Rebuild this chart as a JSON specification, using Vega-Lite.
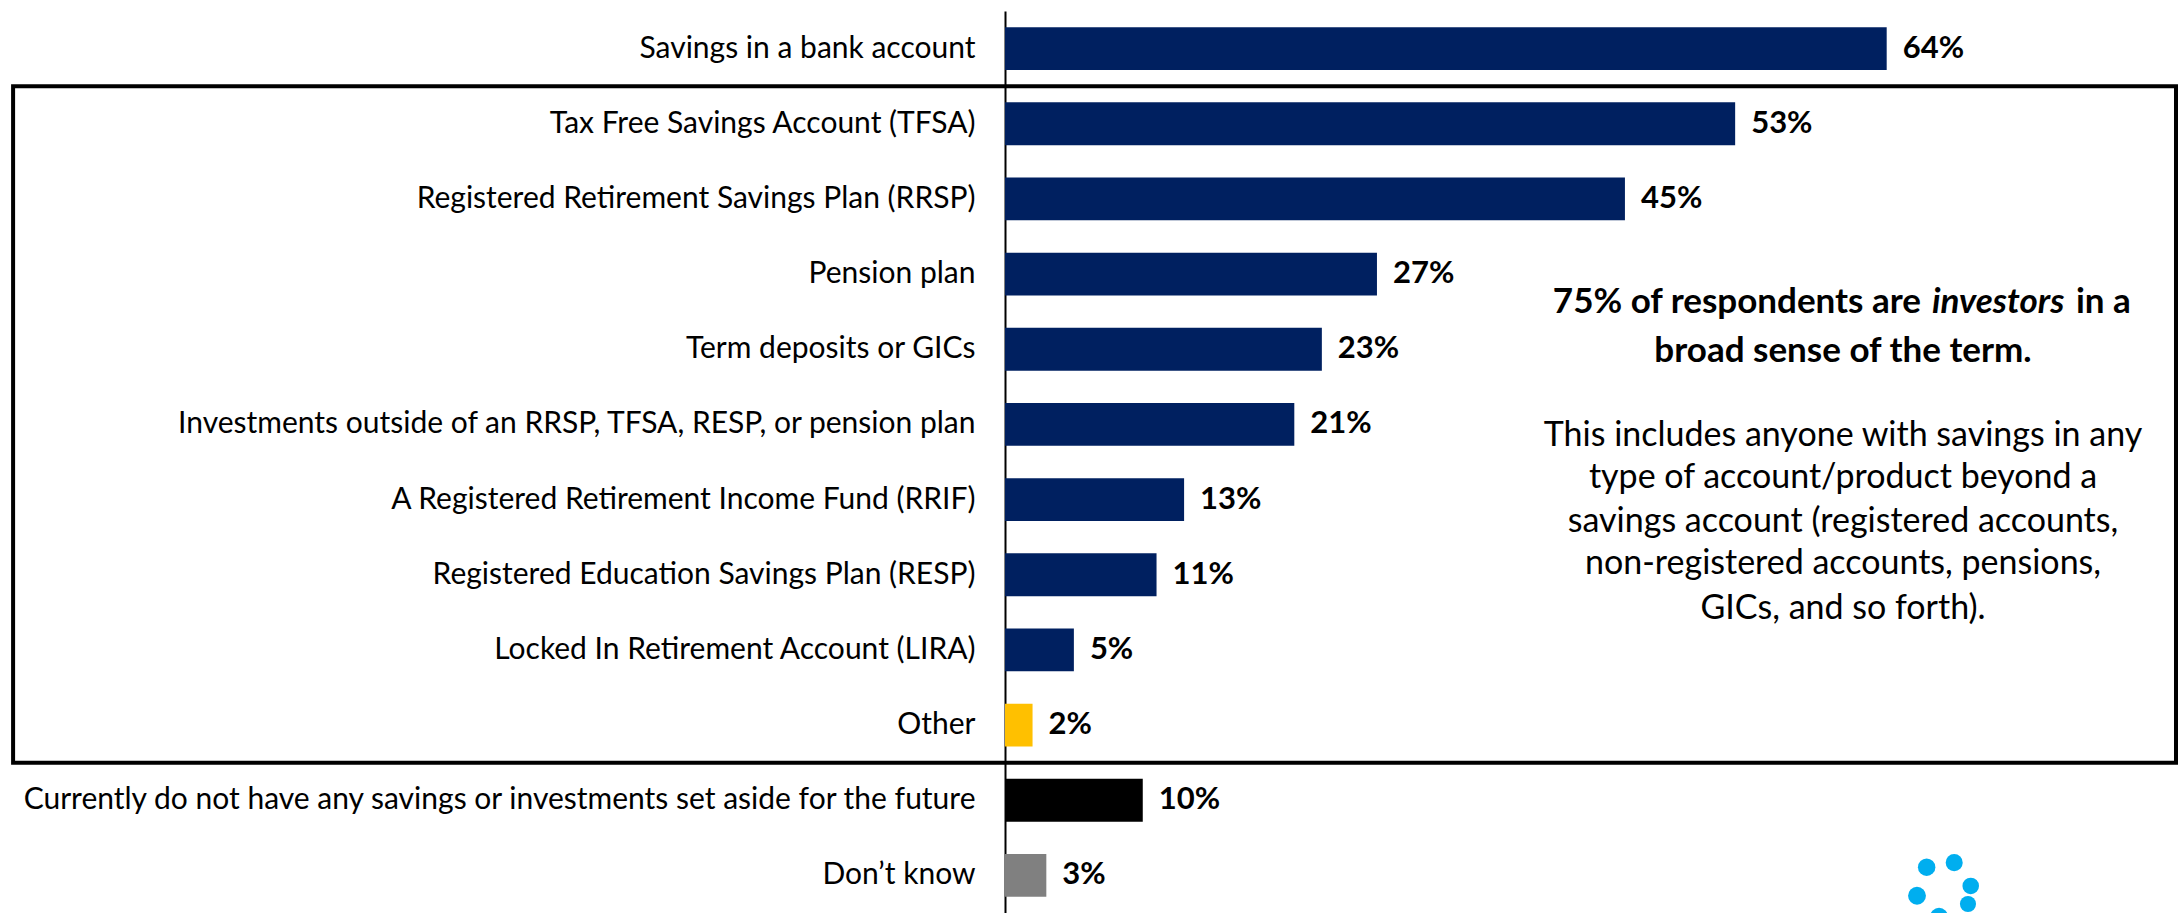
{
  "$schema": "https://vega.github.io/schema/vega-lite/v6.json",
  "width": 1171,
  "height": 902,
  "autosize": {"type": "none"},
  "padding": {"left": 1005, "top": 11, "right": 8, "bottom": 0},
  "background": "white",
  "config": {"view": {"stroke": null}, "font": "Lato"},
  "datasets": {
    "bars": [
      {"cat": "Savings in a bank account", "value": 64, "label": "64%", "group": "main"},
      {"cat": "Tax Free Savings Account (TFSA)", "value": 53, "label": "53%", "group": "main"},
      {"cat": "Registered Retirement Savings Plan (RRSP)", "value": 45, "label": "45%", "group": "main"},
      {"cat": "Pension plan", "value": 27, "label": "27%", "group": "main"},
      {"cat": "Term deposits or GICs", "value": 23, "label": "23%", "group": "main"},
      {"cat": "Investments outside of an RRSP, TFSA, RESP, or pension plan", "value": 21, "label": "21%", "group": "main"},
      {"cat": "A Registered Retirement Income Fund (RRIF)", "value": 13, "label": "13%", "group": "main"},
      {"cat": "Registered Education Savings Plan (RESP)", "value": 11, "label": "11%", "group": "main"},
      {"cat": "Locked In Retirement Account (LIRA)", "value": 5, "label": "5%", "group": "main"},
      {"cat": "Other", "value": 2, "label": "2%", "group": "other"},
      {"cat": "Currently do not have any savings or investments set aside for the future", "value": 10, "label": "10%", "group": "none"},
      {"cat": "Don’t know", "value": 3, "label": "3%", "group": "dk"}
    ],
    "box": [{"x": -72, "x2": 85, "y": 1, "y2": 10}],
    "boldLines": [
      {"text": "broad sense of the term.", "x": 60.83, "y": 4.52}
    ],
    "part1": [{"text": "75% of respondents are", "x": 66.49, "y": 3.87}],
    "part2": [{"text": "investors", "x": 67.29, "y": 3.87}],
    "part3": [{"text": "in a", "x": 77.74, "y": 3.87}],
    "normalLines": [
      {"text": "This includes anyone with savings in any", "x": 60.83, "y": 5.65},
      {"text": "type of account/product beyond a", "x": 60.83, "y": 6.21},
      {"text": "savings account (registered accounts,", "x": 60.83, "y": 6.8},
      {"text": "non-registered accounts, pensions,", "x": 60.83, "y": 7.36},
      {"text": "GICs, and so forth).", "x": 60.83, "y": 7.96}
    ],
    "logo": [
      {"x": 66.9, "y": 11.39, "dot": "b"},
      {"x": 68.9, "y": 11.33, "dot": "c"},
      {"x": 70.1, "y": 11.64, "dot": "d"},
      {"x": 66.2, "y": 11.77, "dot": "a"},
      {"x": 69.9, "y": 11.88, "dot": "e"},
      {"x": 67.8, "y": 12.05, "dot": "a"}
    ]
  },
  "layer": [
    {
      "layer": [
        {
          "data": {"name": "bars"},
          "mark": {"type": "bar"},
          "encoding": {
            "y": {
              "field": "cat", "type": "nominal", "sort": null,
              "scale": {"paddingInner": 0.43, "paddingOuter": 0.215},
              "axis": {
                "title": null, "ticks": false, "domainColor": "black", "domainWidth": 2,
                "labelFontSize": 30, "labelColor": "#000000", "labelPadding": 30,
                "labelLimit": 0, "labelFont": "Lato"
              }
            },
            "x": {"field": "value", "type": "quantitative", "scale": {"domain": [0, 85], "nice": false, "zero": false}, "axis": null},
            "color": {
              "field": "group", "type": "nominal", "legend": null,
              "scale": {"domain": ["main", "other", "none", "dk"], "range": ["#002060", "#FFC000", "#000000", "#808080"]}
            }
          }
        },
        {
          "data": {"name": "bars"},
          "mark": {"type": "text", "align": "left", "baseline": "middle", "dx": 16, "fontWeight": "bold", "fontSize": 31, "color": "#000000"},
          "encoding": {
            "y": {"field": "cat", "type": "nominal", "sort": null},
            "x": {"field": "value", "type": "quantitative", "scale": {"domain": [0, 85], "nice": false, "zero": false}},
            "text": {"field": "label"}
          }
        }
      ]
    },
    {
      "layer": [
        {
          "data": {"name": "box"},
          "mark": {"type": "rect", "fill": null, "filled": false, "stroke": "#000000", "strokeWidth": 4, "clip": false},
          "encoding": {
            "x": {"field": "x", "type": "quantitative", "scale": {"domain": [0, 85], "nice": false, "zero": false}},
            "x2": {"field": "x2"},
            "y": {"field": "y", "type": "quantitative", "scale": {"domain": [0, 12], "reverse": true, "nice": false, "zero": false}, "axis": null},
            "y2": {"field": "y2"}
          }
        },
        {
          "data": {"name": "boldLines"},
          "mark": {"type": "text", "align": "center", "baseline": "middle", "fontWeight": "bold", "fontSize": 35, "color": "#000000"},
          "encoding": {
            "x": {"field": "x", "type": "quantitative"},
            "y": {"field": "y", "type": "quantitative"},
            "text": {"field": "text"}
          }
        },
        {
          "data": {"name": "part1"},
          "mark": {"type": "text", "align": "right", "baseline": "middle", "fontWeight": "bold", "fontSize": 35, "color": "#000000"},
          "encoding": {
            "x": {"field": "x", "type": "quantitative"},
            "y": {"field": "y", "type": "quantitative"},
            "text": {"field": "text"}
          }
        },
        {
          "data": {"name": "part2"},
          "mark": {"type": "text", "align": "left", "baseline": "middle", "fontWeight": "bold", "fontStyle": "italic", "fontSize": 35, "color": "#000000"},
          "encoding": {
            "x": {"field": "x", "type": "quantitative"},
            "y": {"field": "y", "type": "quantitative"},
            "text": {"field": "text"}
          }
        },
        {
          "data": {"name": "part3"},
          "mark": {"type": "text", "align": "left", "baseline": "middle", "fontWeight": "bold", "fontSize": 35, "color": "#000000"},
          "encoding": {
            "x": {"field": "x", "type": "quantitative"},
            "y": {"field": "y", "type": "quantitative"},
            "text": {"field": "text"}
          }
        },
        {
          "data": {"name": "normalLines"},
          "mark": {"type": "text", "align": "center", "baseline": "middle", "fontSize": 34, "color": "#000000"},
          "encoding": {
            "x": {"field": "x", "type": "quantitative"},
            "y": {"field": "y", "type": "quantitative"},
            "text": {"field": "text"}
          }
        },
        {
          "data": {"name": "logo"},
          "mark": {"type": "circle", "opacity": 1, "clip": false, "color": "#00AEEF"},
          "encoding": {
            "x": {"field": "x", "type": "quantitative"},
            "y": {"field": "y", "type": "quantitative"},
            "size": {
              "field": "dot", "type": "nominal", "legend": null,
              "scale": {"domain": ["a", "b", "c", "d", "e"], "range": [320, 260, 160, 115, 50]}
            }
          }
        }
      ]
    }
  ],
  "resolve": {"scale": {"y": "independent"}}
}
